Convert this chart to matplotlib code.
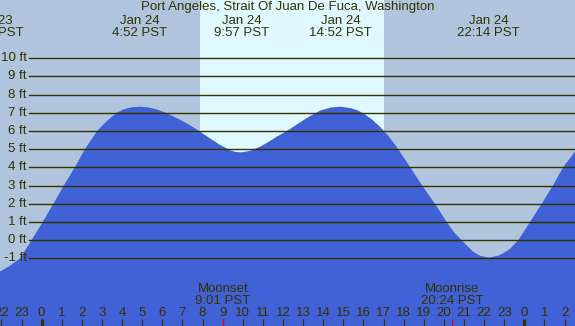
import matplotlib.pyplot as plt
from matplotlib.transforms import blended_transform_factory

# tide chart data (hours since midnight Jan 24, feet)
title = 'Port Angeles, Strait Of Juan De Fuca, Washington'

tide_hours = [-2.07, -1.60, -1.08, -0.50, 0.05, 0.58, 1.12, 1.66, 2.15, 2.45,
              2.76, 3.10, 3.40, 3.73, 4.10, 4.50, 4.89, 5.30, 5.75, 6.22,
              6.70, 7.21, 7.55, 7.87, 8.37, 8.87, 9.36, 9.65, 9.95, 10.40,
              10.86, 11.25, 11.69, 12.00, 12.35, 12.85, 13.34, 13.84, 14.40,
              14.87, 15.40, 15.70, 15.99, 16.40, 16.82, 17.25, 17.65, 18.00,
              18.31, 18.90, 19.56, 20.14, 20.50, 20.88, 21.20, 21.46, 21.80,
              22.23, 22.70, 23.00, 23.28, 23.70, 24.28, 24.86, 25.44, 25.94,
              26.30, 26.52]
tide_feet = [-1.72, -1.42, -1.00, 0.00, 1.00, 2.00, 3.04, 4.03, 5.00, 5.50,
             6.00, 6.40, 6.70, 7.00, 7.20, 7.31, 7.34, 7.30, 7.18, 6.98,
             6.72, 6.43, 6.20, 5.97, 5.60, 5.24, 4.95, 4.85, 4.83, 4.92,
             5.14, 5.38, 5.69, 5.88, 6.11, 6.48, 6.82, 7.12, 7.30,
             7.34, 7.25, 7.14, 6.98, 6.66, 6.24, 5.72, 5.14, 4.55,
             4.04, 3.04, 2.00, 1.00, 0.45, 0.00, -0.35, -0.63, -0.85,
             -0.96, -0.85, -0.68, -0.48, 0.00, 1.00, 2.00, 3.04, 4.03,
             4.55, 4.87]

extreme_hours = [-2.45, 4.87, 9.95, 14.87, 22.23]
extreme_labels = ['Jan 23\n21:33 PST', 'Jan 24\n4:52 PST', 'Jan 24\n9:57 PST',
                  'Jan 24\n14:52 PST', 'Jan 24\n22:14 PST']

sunrise, sunset = 7.87, 17.02
moon_hours = [9.017, 20.4]
moon_labels = ['Moonset\n9:01 PST', 'Moonrise\n20:24 PST']

level_ft = list(range(-1, 11))
hour_ticks = list(range(-2, 27))

W, H = 575, 326
night = '#b0c4de'
day = '#e0f8ff'
water = '#4161d6'
ink = '#333300'

plt.rcParams['font.family'] = ['Liberation Sans', 'DejaVu Sans']
plt.rcParams['font.size'] = 9.5

fig = plt.figure(figsize=(W / 100, H / 100), dpi=100)
fig.patch.set_facecolor(night)
ax = fig.add_axes([0, 0, 1, 1])
ax.set_xlim(-2.07, 26.52)
ax.set_ylim(-4.71, 13.2)
ax.axis('off')

x_data_y_axes = blended_transform_factory(ax.transData, ax.transAxes)
x_axes_y_data = blended_transform_factory(ax.transAxes, ax.transData)

ax.axvspan(sunrise, sunset, color=day, lw=0, zorder=0)
ax.fill_between(tide_hours, tide_feet, -10, color=water, lw=0, zorder=1)

# level lines and labels
for ft in level_ft:
    ax.axhline(ft, xmin=29 / W, color=ink, lw=1.0, zorder=2)
    ax.text(27 / W, ft, f'{ft} ft', transform=x_axes_y_data,
            ha='right', va='center', color=ink)

# title and high/low labels
ax.text(0.5, 1 - 1 / H, title, transform=ax.transAxes,
        ha='center', va='top', color=ink)
for h, lab in zip(extreme_hours, extreme_labels):
    ax.text(h, 1 - 15 / H, lab, transform=x_data_y_axes, ha='center',
            va='top', color=ink, linespacing=0.95)

# moon labels
for h, lab in zip(moon_hours, moon_labels):
    ax.text(h, 1 - 283 / H, lab, transform=x_data_y_axes, ha='center',
            va='top', color=ink, linespacing=0.95)
    ax.vlines(h, 0, 7 / H, transform=x_data_y_axes, color='red', lw=0.8,
              zorder=4)

# hour ticks along bottom
for h in hour_ticks:
    ax.text(h, 1 - 307 / H, str(h % 24), transform=x_data_y_axes,
            ha='center', va='top', color=ink)
    ax.vlines(h, 0, 7 / H, transform=x_data_y_axes, color=ink,
              lw=2.2 if h % 24 == 0 else 0.8, zorder=3)

fig.savefig('out.png', dpi=100, facecolor=night)
